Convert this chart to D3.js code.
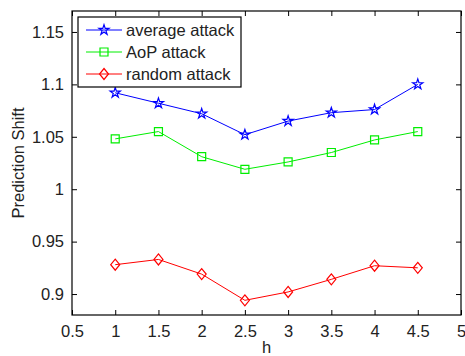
<!DOCTYPE html>
<html lang="en">
<head>
<meta charset="UTF-8">
<script src="https://cdn.jsdelivr.net/npm/d3@7"></script>
<style>
  body { margin: 0; background: #fff; }
  text { font-family: "Liberation Sans", Arial, sans-serif; }
</style>
</head>
<body>
<svg id="chart" width="465" height="356"></svg>
<script>
// data
const hValues = [1, 1.5, 2, 2.5, 3, 3.5, 4, 4.5];
const averageAttack = [1.092, 1.082, 1.072, 1.052, 1.065, 1.073, 1.076, 1.100];
const aopAttack = [1.048, 1.055, 1.031, 1.019, 1.026, 1.035, 1.047, 1.055];
const randomAttack = [0.928, 0.933, 0.919, 0.894, 0.902, 0.914, 0.927, 0.925];
const seriesNames = ['average attack', 'AoP attack', 'random attack'];
const xTicks = [0.5, 1, 1.5, 2, 2.5, 3, 3.5, 4, 4.5, 5];
const yTicks = [0.9, 0.95, 1, 1.05, 1.1, 1.15];

const svg = d3.select('#chart');
const m = {left: 72, right: 461, top: 11, bottom: 315};
const fs = 16.5;

const x = d3.scaleLinear().domain([0.5, 5]).range([m.left, m.right]);
const y = d3.scaleLinear().domain([0.88, 1.17]).range([m.bottom, m.top]);

// axes (matlab style: inward ticks on all four sides)
const tickLen = 5;
svg.append('g').attr('transform', `translate(0,${m.bottom})`)
    .call(d3.axisBottom(x).tickValues(xTicks).tickSizeInner(-tickLen).tickSizeOuter(0).tickPadding(10).tickFormat(d3.format('')));
svg.append('g').attr('transform', `translate(0,${m.top})`)
    .call(d3.axisTop(x).tickValues(xTicks).tickSizeInner(-tickLen).tickSizeOuter(0).tickFormat(''));
svg.append('g').attr('transform', `translate(${m.left},0)`)
    .call(d3.axisLeft(y).tickValues(yTicks).tickSizeInner(-tickLen).tickSizeOuter(0).tickPadding(8).tickFormat(d3.format('')));
svg.append('g').attr('transform', `translate(${m.right},0)`)
    .call(d3.axisRight(y).tickValues(yTicks).tickSizeInner(-tickLen).tickSizeOuter(0).tickFormat(''));

svg.selectAll('.domain').remove();
svg.selectAll('.tick line').attr('stroke', '#000');
svg.selectAll('.tick text').attr('font-size', fs).attr('fill', '#222');

svg.append('rect')
    .attr('x', m.left).attr('y', m.top)
    .attr('width', m.right - m.left).attr('height', m.bottom - m.top)
    .attr('fill', 'none').attr('stroke', '#000').attr('stroke-width', 1.2);

// labels
svg.append('text').attr('x', (m.left + m.right) / 2).attr('y', 353)
    .attr('text-anchor', 'middle').attr('font-size', fs).attr('fill', '#222').text('h');
svg.append('text').attr('transform', `translate(24,${(m.top + m.bottom) / 2}) rotate(-90)`)
    .attr('text-anchor', 'middle').attr('font-size', fs).attr('fill', '#222').text('Prediction Shift');

// markers
const starPath = d3.symbol().type(d3.symbolStar).size(32)();
const squarePath = d3.symbol().type(d3.symbolSquare).size(64)();
const diamondPath = 'M0,-5.5L4.5,0L0,5.5L-4.5,0Z';

const series = [
    {name: seriesNames[0], values: averageAttack, color: '#0000ff', marker: starPath},
    {name: seriesNames[1], values: aopAttack, color: '#00ee00', marker: squarePath},
    {name: seriesNames[2], values: randomAttack, color: '#ff0000', marker: diamondPath}
];

const line = d3.line().x((d, i) => x(hValues[i])).y(d => y(d));

series.forEach(s => {
    svg.append('path').datum(s.values)
        .attr('d', line).attr('fill', 'none')
        .attr('stroke', s.color).attr('stroke-width', 1);
    svg.selectAll(null).data(s.values).enter().append('path')
        .attr('d', s.marker)
        .attr('transform', (d, i) => `translate(${x(hValues[i])},${y(d)})`)
        .attr('fill', 'none').attr('stroke', s.color).attr('stroke-width', 1.2);
});

// legend
const lg = svg.append('g').attr('transform', 'translate(78,17)');
lg.append('rect').attr('width', 163).attr('height', 70)
    .attr('fill', '#fff').attr('stroke', '#000').attr('stroke-width', 1.2);
series.forEach((s, i) => {
    const yy = 13 + i * 22;
    lg.append('line').attr('x1', 8).attr('x2', 44).attr('y1', yy).attr('y2', yy)
        .attr('stroke', s.color).attr('stroke-width', 1);
    lg.append('path').attr('d', s.marker).attr('transform', `translate(26,${yy})`)
        .attr('fill', 'none').attr('stroke', s.color).attr('stroke-width', 1.2);
    lg.append('text').attr('x', 48).attr('y', yy + 6)
        .attr('font-size', fs).attr('fill', '#222').text(s.name);
});
</script>
</body>
</html>
